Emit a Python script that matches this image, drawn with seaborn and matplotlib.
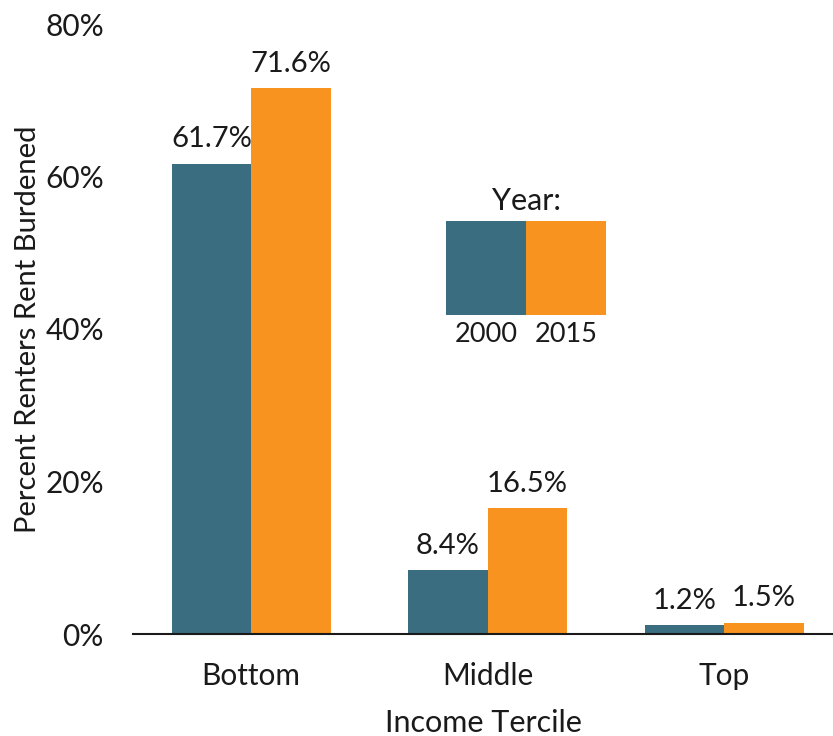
import matplotlib
matplotlib.use("Agg")
import matplotlib.pyplot as plt
import seaborn as sns
import pandas as pd
from matplotlib.patches import Rectangle

terciles = ["Bottom", "Middle", "Top"]
years = ["2000", "2015"]
values_2000 = [61.7, 8.4, 1.2]
values_2015 = [71.6, 16.5, 1.5]
colors = ["#3b6d80", "#f7931e"]

df = pd.DataFrame({
    "Income Tercile": terciles * 2,
    "Year": [years[0]] * 3 + [years[1]] * 3,
    "Value": values_2000 + values_2015,
})

sns.set_theme(style="white")
plt.rcParams["font.family"] = ["Lato", "DejaVu Sans"]

fig = plt.figure(figsize=(8.33, 7.36), dpi=100)
ax = fig.add_axes([133 / 833, 1 - 634 / 736, 700 / 833, 610 / 736])

sns.barplot(data=df, x="Income Tercile", y="Value", hue="Year",
            palette=colors, width=0.672, saturation=1, ax=ax, legend=False,
            linewidth=0, edgecolor="none")

for c in ax.containers:
    ax.bar_label(c, labels=[f"{v:.1f}%" for v in c.datavalues], padding=8,
                 fontsize=21, color="#1a1a1a")

ax.set_ylim(0, 80)
ax.set_xlim(-0.5, 2.46)
ax.set_yticks([0, 20, 40, 60, 80])
ax.set_yticklabels(["0%", "20%", "40%", "60%", "80%"])
ax.tick_params(axis="y", labelsize=21.5, length=0, pad=21, colors="#1a1a1a")
ax.tick_params(axis="x", labelsize=21.5, length=0, pad=20, colors="#1a1a1a")
for s in ["top", "right", "left"]:
    ax.spines[s].set_visible(False)
ax.spines["bottom"].set_color("#1a1a1a")
ax.spines["bottom"].set_linewidth(1.5)
ax.set_ylabel("Percent Renters Rent Burdened", fontsize=21, color="#1a1a1a")
ax.set_xlabel("Income Tercile", fontsize=22, color="#1a1a1a", labelpad=14)
ax.yaxis.set_label_coords(-0.132, 0.5)

# inset legend
leg_x0, leg_y0, sw_w, sw_h = 446 / 833, 1 - 315 / 736, 80 / 833, 94 / 736
for i, (yr, col) in enumerate(zip(years, colors)):
    fig.patches.append(Rectangle((leg_x0 + i * sw_w, leg_y0), sw_w, sw_h,
                                 transform=fig.transFigure, facecolor=col,
                                 edgecolor="none"))
    fig.text(leg_x0 + (i + 0.5) * sw_w, 1 - 334 / 736, yr, ha="center",
             va="center", fontsize=19.5, color="#1a1a1a")
fig.text(leg_x0 + sw_w, 1 - 201 / 736, "Year:", ha="center", va="center",
         fontsize=22, color="#1a1a1a")

fig.savefig("out.png", dpi=100)
